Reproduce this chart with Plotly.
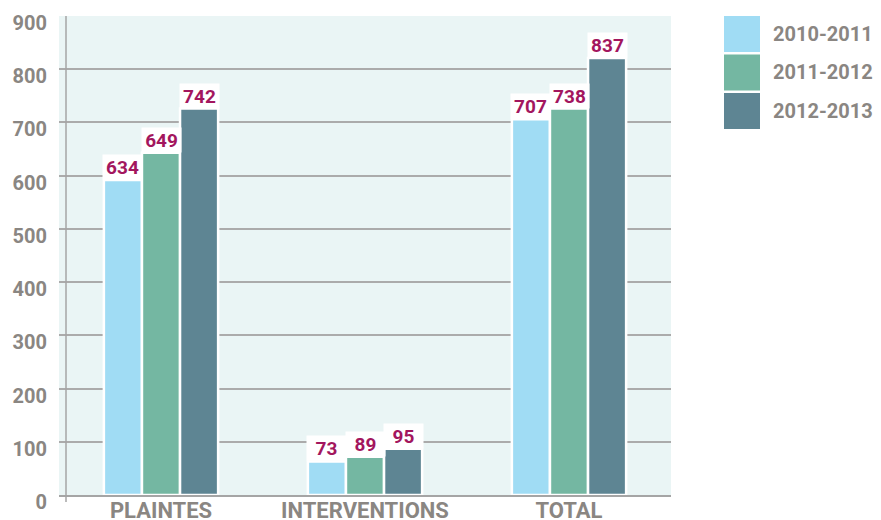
import plotly.graph_objects as go

CATEGORIES = ["PLAINTES", "INTERVENTIONS", "TOTAL"]
SERIES = ["2010-2011", "2011-2012", "2012-2013"]
COLORS = ["#a0dcf4", "#74b7a2", "#5e8593"]

# bar heights as drawn in the picture
HEIGHTS_1011 = [592, 63, 706]
HEIGHTS_1112 = [643, 72, 726]
HEIGHTS_1213 = [726, 87, 821]

# printed value labels
LABELS_1011 = [634, 73, 707]
LABELS_1112 = [649, 89, 738]
LABELS_1213 = [742, 95, 837]

Y_TICKS = [0, 100, 200, 300, 400, 500, 600, 700, 800, 900]

heights = [HEIGHTS_1011, HEIGHTS_1112, HEIGHTS_1213]
labels = [LABELS_1011, LABELS_1112, LABELS_1213]

FONT = "Roboto"
GREY = "#8a8682"
LABEL_RED = "#a3165e"
BARGAP = 0.44

# the page body adds an 8px margin, so the figure is drawn 8px in from the corner
PAGE_OFFSET = 8
# plot area in screen pixels
L, R, T, B = 59, 671, 16, 495
W, H = R - L, B - T
FIG_W, FIG_H = 881 - PAGE_OFFSET, 520 - PAGE_OFFSET


def px_x(p):
    return (p - L) / W


def px_y(p):
    return (B - p) / H


fig = go.Figure()
for name, color, ys in zip(SERIES, COLORS, heights):
    fig.add_trace(
        go.Bar(
            name=name,
            x=CATEGORIES,
            y=ys,
            marker=dict(color=color, line=dict(color="white", width=2.5)),
            showlegend=False,
        )
    )

# value labels in white boxes sitting on top of each bar
slot = (1 - BARGAP) / len(SERIES)
for i, (ys, vals) in enumerate(zip(heights, labels)):
    for j, (y, v) in enumerate(zip(ys, vals)):
        fig.add_annotation(
            x=j + (i - 1) * slot,
            y=y,
            xref="x",
            yref="y",
            text=f"<b>{v}</b>",
            showarrow=False,
            yanchor="bottom",
            bgcolor="white",
            width=35,
            height=20,
            borderpad=2,
            font=dict(family=FONT, size=19, color=LABEL_RED),
        )

# legend drawn by hand: big square swatches
for k, (name, color) in enumerate(zip(SERIES, COLORS)):
    top = 16 + k * 38.5
    fig.add_shape(
        type="rect",
        xref="paper",
        yref="paper",
        x0=px_x(724),
        x1=px_x(760),
        y0=px_y(top + 36),
        y1=px_y(top),
        fillcolor=color,
        line=dict(width=0),
    )
    fig.add_annotation(
        x=px_x(771),
        y=px_y(top + 18),
        xref="paper",
        yref="paper",
        text=f"<b>{name}</b>",
        showarrow=False,
        xanchor="left",
        yanchor="middle",
        font=dict(family=FONT, size=20, color=GREY),
    )

# vertical axis line, offset from the plot edge
fig.add_shape(
    type="line",
    xref="paper",
    yref="paper",
    x0=px_x(66),
    x1=px_x(66),
    y0=px_y(502),
    y1=1,
    line=dict(color="#a5a5a5", width=1.5),
)

fig.update_layout(
    width=FIG_W,
    height=FIG_H,
    barmode="group",
    bargap=BARGAP,
    bargroupgap=0,
    paper_bgcolor="white",
    plot_bgcolor="#eaf5f5",
    margin=dict(
        l=L - PAGE_OFFSET,
        r=881 - R,
        t=T - PAGE_OFFSET,
        b=520 - B,
        autoexpand=False,
    ),
    font=dict(family=FONT, color=GREY),
)
fig.update_xaxes(
    tickvals=CATEGORIES,
    ticktext=[f"<b>{c}</b>" for c in CATEGORIES],
    showgrid=False,
    showline=True,
    linecolor="#a5a5a5",
    linewidth=2,
    ticks="",
    tickfont=dict(family=FONT, size=22, color=GREY),
    ticklabelstandoff=-5,
    automargin=False,
)
fig.update_yaxes(
    range=[0, 900],
    tickvals=Y_TICKS,
    ticktext=[f"<b>{t}</b>" for t in Y_TICKS],
    showgrid=True,
    gridcolor="#ababab",
    gridwidth=1.5,
    zeroline=False,
    ticks="",
    ticklabelposition="outside",
    ticklabelshift=7,
    ticklabeloverflow="allow",
    tickfont=dict(family=FONT, size=20, color=GREY),
    ticklabelstandoff=11,
    automargin=False,
)

fig.write_html("out.html")
